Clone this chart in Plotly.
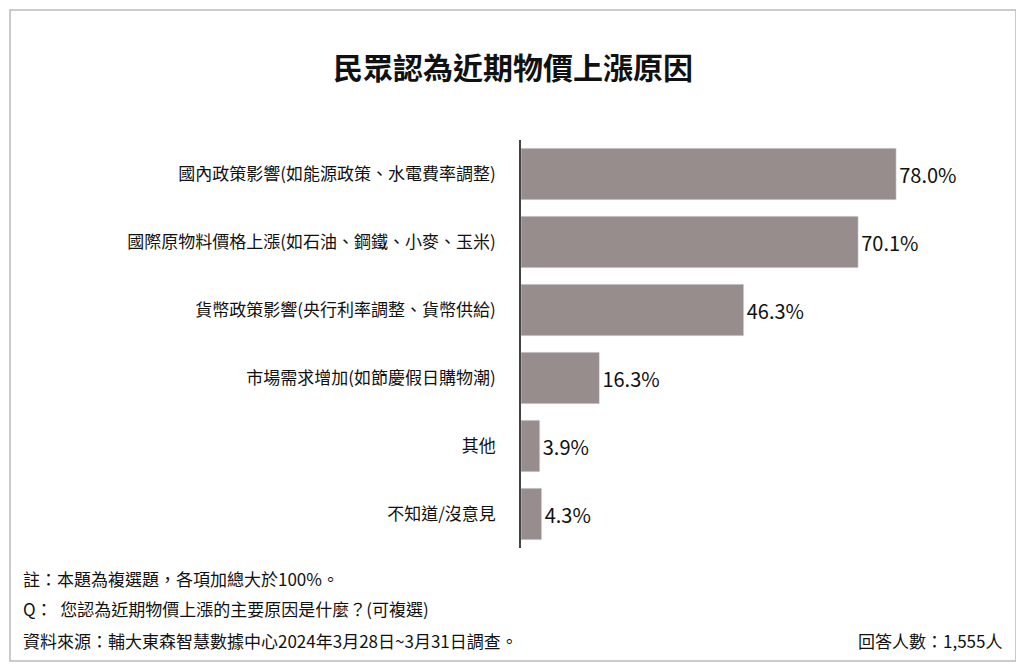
import plotly.graph_objects as go

categories = [
    "國內政策影響(如能源政策、水電費率調整)",
    "國際原物料價格上漲(如石油、鋼鐵、小麥、玉米)",
    "貨幣政策影響(央行利率調整、貨幣供給)",
    "市場需求增加(如節慶假日購物潮)",
    "其他",
    "不知道/沒意見",
]
values = [78.0, 70.1, 46.3, 16.3, 3.9, 4.3]
labels = ["%.1f%%" % v for v in values]

font = "Noto Sans CJK TC"

fig = go.Figure(go.Bar(
    y=categories, x=values, orientation="h",
    marker=dict(color="#978d8c"),
    text=labels, textposition="outside", cliponaxis=False,
    textfont=dict(size=20, color="#111", family=font),
))

fig.update_layout(
    width=1010, height=655,
    margin=dict(l=513, r=16, t=132, b=115),
    paper_bgcolor="white", plot_bgcolor="white",
    bargap=0.24, showlegend=False,
    font=dict(family=font, color="#111"),
    title=dict(text="<b>民眾認為近期物價上漲原因</b>", x=0.5, xanchor="center",
               y=0.908, yanchor="middle", font=dict(size=30, family=font, color="#111")),
    xaxis=dict(range=[0, 100], visible=False),
    yaxis=dict(autorange="reversed", showline=True, linecolor="#444", linewidth=1.5,
               ticks="", ticklabelstandoff=20, tickfont=dict(size=17, family=font, color="#111")),
    shapes=[dict(type="rect", xref="paper", yref="paper", x0=-511/481, x1=1+14/481,
                 y0=-113/408, y1=1+130/408, line=dict(color="#bbb", width=1.5))],
)

notes = [
    (578, "註：本題為複選題，各項加總大於100%。"),
    (608, "Q：  您認為近期物價上漲的主要原因是什麼？(可複選)"),
    (640, "資料來源：輔大東森智慧數據中心2024年3月28日~3月31日調查。"),
]
for yy, t in notes:
    fig.add_annotation(text=t, xref="paper", yref="paper", x=-500/481,
                       y=1 - (yy - 140) / 408, xanchor="left", yanchor="middle",
                       showarrow=False, font=dict(size=17, family=font, color="#111"))
fig.add_annotation(text="回答人數：1,555人", xref="paper", yref="paper", x=1 + 2/481,
                   y=1 - (640 - 140) / 408, xanchor="right", yanchor="middle",
                   showarrow=False, font=dict(size=17, family=font, color="#111"))

fig.write_html("out.html")
